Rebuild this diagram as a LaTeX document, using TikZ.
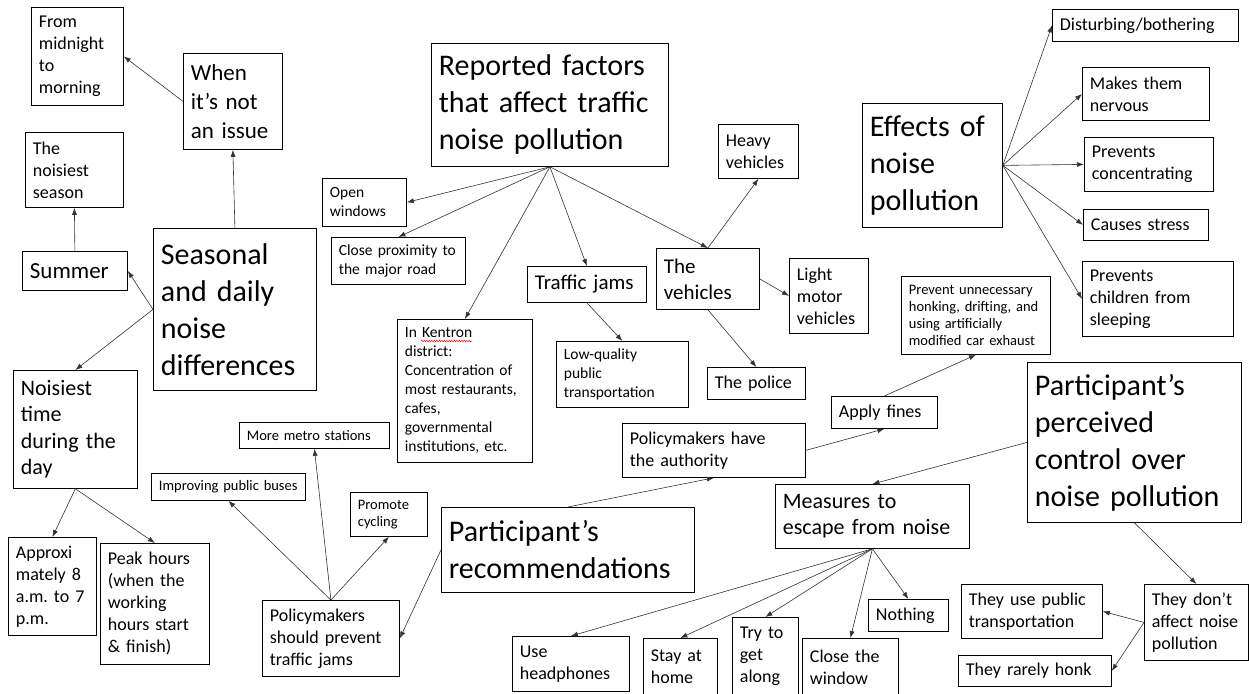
\documentclass[tikz,border=0pt]{standalone}
\usepackage{fontspec}
\setmainfont{Carlito}
\usetikzlibrary{arrows.meta,decorations.pathmorphing}
\frenchspacing

\begin{document}
\begin{tikzpicture}[x=1pt, y=-1pt,
      every node/.style = {shape=rectangle, draw, align=left,
        anchor=north west, inner xsep=7.5pt, inner ysep=1pt, line width=0.8pt},
      titlebox/.style = {font=\fontsize{30}{37}\selectfont},
      topicbox/.style = {font=\fontsize{22}{26.5}\selectfont},
      itembox/.style = {font=\fontsize{18}{22}\selectfont},
      notebox/.style = {font=\fontsize{15.5}{19}\selectfont},
      tinybox/.style = {font=\fontsize{14.5}{17}\selectfont},
      link/.style = {-{Latex[length=7pt,width=5pt]}, line width=0.6pt, black!80}]
  \path[use as bounding box, fill=white] (0,0) rectangle (1249,693);

  % seasonal and daily differences
  \node[titlebox, text width=148pt, minimum height=162pt] (seasonal) at (153,228) {Seasonal\\and daily\\noise\\differences};
  \node[font=\fontsize{23}{29}\selectfont, text width=84pt, minimum height=96pt] (notissue) at (183,53) {When\\it’s not\\an issue};
  \node[itembox, text width=77pt, minimum height=98pt] (midnight) at (31,7) {From\\midnight\\to\\morning};
  \node[font=\fontsize{23}{29}\selectfont, text width=90pt, minimum height=39pt] (summer) at (22,251) {Summer};
  \node[itembox, text width=83pt, minimum height=75pt] (season) at (25,132) {The\\noisiest\\season};
  \node[topicbox, text width=109pt, minimum height=118pt] (noisiest) at (13,370) {Noisiest\\time\\during the\\day};
  \node[itembox, text width=73pt, minimum height=98pt] (approx) at (8,537) {Approxi\\mately 8\\a.m. to 7\\p.m.};
  \node[itembox, text width=94pt, minimum height=121pt] (peak) at (100,543) {Peak hours\\(when the\\working\\hours start\\\& finish)};

  % reported factors
  \node[titlebox, text width=222pt, minimum height=123pt] (factors) at (431,43) {Reported factors\\that affect traffic\\noise pollution};
  \node[notebox, text width=69pt, minimum height=48pt] (windows) at (322,178) {Open\\windows};
  \node[notebox, text width=119pt, minimum height=47pt] (proximity) at (331,237) {Close proximity to\\the major road};
  \node[notebox, text width=120pt, minimum height=143pt] (kentron) at (397,319) {In Kentron\\district:\\Concentration of\\most restaurants,\\cafes,\\governmental\\institutions, etc.};
  \node[font=\fontsize{21}{26}\selectfont, text width=104pt, minimum height=36pt] (jams) at (527,266) {Traffic jams};
  \node[notebox, text width=117pt, minimum height=66pt] (lowq) at (556,341) {Low-quality\\public\\transportation};
  \node[font=\fontsize{21}{26}\selectfont, text width=88pt, minimum height=61pt] (vehicles) at (656,248) {The\\vehicles};
  \node[itembox, text width=65pt, minimum height=54pt] (heavy) at (718,124) {Heavy\\vehicles};
  \node[itembox, text width=64pt, minimum height=75pt] (light) at (789,258) {Light\\motor\\vehicles};
  \node[itembox, text width=83pt, minimum height=32pt] (police) at (707,367) {The police};

  % effects
  \node[titlebox, text width=125pt, minimum height=124pt] (effects) at (862,103) {Effects of\\noise\\pollution};
  \node[itembox, text width=171pt, minimum height=32pt] (disturb) at (1052,9) {Disturbing/bothering};
  \node[itembox, text width=112pt, minimum height=53pt] (nervous) at (1082,67) {Makes them\\nervous};
  \node[itembox, text width=114pt, minimum height=54pt] (concen) at (1084,137) {Prevents\\concentrating};
  \node[itembox, text width=110pt, minimum height=31pt] (stress) at (1083,209) {Causes stress};
  \node[itembox, text width=136pt, minimum height=75pt] (sleeping) at (1082,261) {Prevents\\children from\\sleeping};

  % recommendations
  \node[titlebox, text width=238pt, minimum height=85pt] (recomm) at (441,507) {Participant’s\\recommendations};
  \node[itembox, text width=168pt, minimum height=54pt] (authority) at (622,423) {Policymakers have\\the authority};
  \node[itembox, text width=91pt, minimum height=32pt] (fines) at (831,396) {Apply fines};
  \node[tinybox, text width=134pt, minimum height=78pt] (honking) at (901,276) {Prevent unnecessary\\honking, drifting, and\\using artificially\\modified car exhaust};
  \node[itembox, text width=122pt, minimum height=76pt] (prevent) at (262,600) {Policymakers\\should prevent\\traffic jams};
  \node[tinybox, text width=139pt, minimum height=27pt] (buses) at (151,473) {Improving public buses};
  \node[tinybox, text width=135pt, minimum height=26pt] (metro) at (239,422) {More metro stations};
  \node[tinybox, text width=62pt, minimum height=44pt] (cycling) at (350,492) {Promote\\cycling};

  % perceived control
  \node[titlebox, text width=199pt, minimum height=160pt] (control) at (1027,362) {Participant’s\\perceived\\control over\\noise pollution};
  \node[topicbox, text width=179pt, minimum height=64pt] (measures) at (775,484) {Measures to\\escape from noise};
  \node[itembox, text width=102pt, minimum height=55pt] (headph) at (512,636) {Use\\headphones};
  \node[itembox, text width=59pt, minimum height=57pt] (home) at (643,638) {Stay at\\home};
  \node[itembox, text width=51pt, minimum height=78pt] (along) at (732,617) {Try to\\get\\along};
  \node[itembox, text width=81pt, minimum height=57pt] (window) at (802,638) {Close the\\window};
  \node[itembox, text width=65pt, minimum height=32pt] (nothing) at (868,599) {Nothing};
  \node[itembox, text width=89pt, minimum height=76pt] (dont) at (1144,584) {They don’t\\affect noise\\pollution};
  \node[itembox, text width=126pt, minimum height=54pt] (usepublic) at (961,584) {They use public\\transportation};
  \node[itembox, text width=138pt, minimum height=31pt] (honk) at (958,655) {They rarely honk};

  % spell check mark
  \draw[red, line width=0.5pt, decorate, decoration={snake, amplitude=0.7pt, segment length=2.5pt}] (421,341) -- (472,341);

  \draw[link] (seasonal.west) -- (summer.east);
  \draw[link] (seasonal.west) -- (noisiest.north);
  \draw[link] (seasonal.north) -- (notissue.south);
  \draw[link] (notissue.west) -- (midnight.east);
  \draw[link] (summer.north) -- (season.south);
  \draw[link] (noisiest.south) -- (approx.north);
  \draw[link] (noisiest.south) -- (peak.north);

  \draw[link] (factors.south) -- (windows.east);
  \draw[link] (factors.south) -- (proximity.north);
  \draw[link] (factors.south) -- (kentron.north);
  \draw[link] (factors.south) -- (jams.north);
  \draw[link] (factors.south) -- (vehicles.north);
  \draw[link] (jams.south) -- (lowq.north);
  \draw[link] (vehicles.north) -- (heavy.south);
  \draw[link] (vehicles.east) -- (light.west);
  \draw[link] (vehicles.south) -- (police.north);

  \draw[link] (effects.east) -- (disturb.west);
  \draw[link] (effects.east) -- (nervous.west);
  \draw[link] (effects.east) -- (concen.west);
  \draw[link] (effects.east) -- (stress.west);
  \draw[link] (effects.east) -- (sleeping.west);

  \draw[link] (recomm.west) -- (prevent.east);
  \draw[link] (recomm.north) -- (authority.south);
  \draw[link] (authority.east) -- (fines.south);
  \draw[link] (fines.north) -- (honking.south);
  \draw[link] (prevent.north) -- (buses.south);
  \draw[link] (prevent.north) -- (metro.south);
  \draw[link] (prevent.north) -- (cycling.south);

  \draw[link] (control.west) -- (measures.north);
  \draw[link] (control.south) -- (dont.north);
  \draw[link] (dont.west) -- (usepublic.east);
  \draw[link] (dont.west) -- (honk.east);
  \draw[link] (measures.south) -- (headph.north);
  \draw[link] (measures.south) -- (home.north);
  \draw[link] (measures.south) -- (along.north);
  \draw[link] (measures.south) -- (window.north);
  \draw[link] (measures.south) -- (nothing.north);
\end{tikzpicture}
\end{document}
